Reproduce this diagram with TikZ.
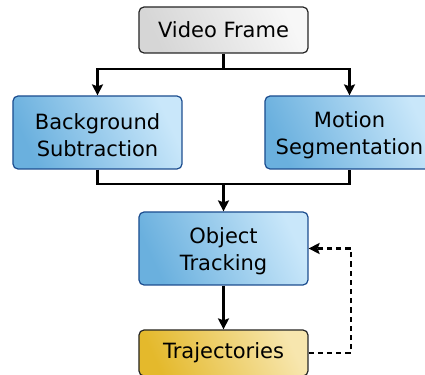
\documentclass[tikz,border=0pt]{standalone}
\usepackage{fontspec}
\setmainfont{DejaVu Sans}
\usetikzlibrary{arrows.meta,shadings}
\definecolor{blueL}{HTML}{6AB0DE}
\definecolor{blueR}{HTML}{C9E7FA}
\definecolor{blueB}{HTML}{1C4D8F}
\definecolor{greyL}{HTML}{D6D6D6}
\definecolor{greyR}{HTML}{F7F7F7}
\definecolor{goldL}{HTML}{E4B92C}
\definecolor{goldR}{HTML}{F7E6AE}
\newcommand\tallstrut{\rule{0pt}{11pt}}
\begin{document}
\begin{tikzpicture}[x=0.5pt,y=-0.5pt,
  box/.style={rounded corners=2.5pt,line width=0.6pt,inner sep=0pt,align=center,
    font=\fontsize{10.5}{13.5}\selectfont},
  bluebox/.style={box,draw=blueB,left color=blueL,right color=blueR,shading angle=115,minimum width=84.5pt,minimum height=36.5pt},
  greybox/.style={box,draw=black!85,left color=greyL,right color=greyR,shading angle=115,minimum width=84.5pt,minimum height=23pt},
  goldbox/.style={box,draw=black!85,left color=goldL,right color=goldR,shading angle=115,minimum width=84.5pt,minimum height=23pt},
  conn/.style={line width=1.4pt},
  arr/.style={conn,-{Stealth[length=5.5pt,width=5.5pt,inset=1pt]}},
  dasharr/.style={arr,dash pattern=on 2.6pt off 2pt}]
\useasboundingbox (0,0) rectangle (425,375);
\node[greybox] (vf) at (223.5,30) {Video Frame};
\node[bluebox] (bs) at (97.5,132.5) {\tallstrut Background\\Subtraction};
\node[bluebox] (ms) at (349.5,132.5) {\tallstrut Motion\\Segmentation};
\node[bluebox] (ot) at (223.5,248.5) {\tallstrut Object\\Tracking};
\node[goldbox] (tr) at (223.5,353) {Trajectories};
\coordinate (s1) at (223.5,69);
\coordinate (s2) at (223.5,184);
\coordinate (fb) at (351,353);
\draw[conn] (vf.south) -- (s1);
\draw[arr] (s1) -| (bs.north);
\draw[arr] (s1) -| (ms.north);
\draw[conn] (bs.south) |- (s2) -| (ms.south);
\draw[arr] (s2) -- (ot.north);
\draw[arr] (ot.south) -- (tr.north);
\draw[dasharr] (tr.east) -- (fb) |- (ot.east);
\end{tikzpicture}
\end{document}
